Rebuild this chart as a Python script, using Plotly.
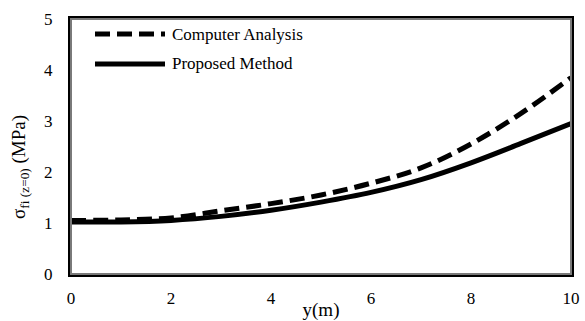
import plotly.graph_objects as go

y_m = [0, 1, 2, 3, 4, 5, 6, 7, 8, 9, 10]
computer_analysis = [1.05, 1.06, 1.10, 1.24, 1.38, 1.55, 1.78, 2.08, 2.55, 3.15, 3.85]
proposed_method = [1.02, 1.02, 1.05, 1.13, 1.25, 1.41, 1.60, 1.85, 2.18, 2.56, 2.95]
x_ticks = [0, 2, 4, 6, 8, 10]
y_ticks = [0, 1, 2, 3, 4, 5]

FONT = "Liberation Serif, Times New Roman, serif"

fig = go.Figure()
fig.add_trace(go.Scatter(x=y_m, y=computer_analysis, mode="lines", name="Computer Analysis",
                         line=dict(color="black", width=5, dash="15px,7px", shape="spline"),
                         showlegend=False))
fig.add_trace(go.Scatter(x=y_m, y=proposed_method, mode="lines", name="Proposed Method",
                         line=dict(color="black", width=5, shape="spline"),
                         showlegend=False))

# inner gray edge of frame
fig.add_shape(type="rect", xref="paper", yref="paper", x0=0, y0=0, x1=1, y1=1,
              line=dict(color="#7a7a7a", width=2), layer="above")

# manual legend
legend_items = [("Computer Analysis", "15px,7px", 0.941), ("Proposed Method", "solid", 0.824)]
for label, dash, yy in legend_items:
    fig.add_shape(type="line", xref="paper", yref="paper", x0=0.048, x1=0.188, y0=yy, y1=yy,
                  line=dict(color="black", width=5, dash=dash))
    fig.add_annotation(text=label, xref="paper", yref="paper", x=0.198, y=yy, xanchor="left",
                       yanchor="middle", showarrow=False, font=dict(family=FONT, size=17, color="black"))

# y-axis title as rotated annotation (offset downward like the reference)
fig.add_annotation(text="σ<sub>fi (z=0)</sub> (MPa)", xref="paper", yref="paper",
                   x=-0.102, y=0.42, xanchor="center", yanchor="middle", textangle=-90,
                   showarrow=False, font=dict(family=FONT, size=19, color="black"))

axis_common = dict(showgrid=False, zeroline=False, showline=True, mirror=True,
                   linecolor="black", linewidth=3, ticks="", automargin=False)

fig.update_layout(
    width=585, height=321,
    margin=dict(l=71, r=14, t=19, b=47),
    plot_bgcolor="white", paper_bgcolor="white",
    font=dict(family=FONT, size=17, color="black"),
    xaxis=dict(range=[0, 10], tickvals=x_ticks, tickfont=dict(size=17), ticklabelstandoff=7,
               ticklabeloverflow="allow",
               title=dict(text="y(m)", font=dict(size=19), standoff=0), **axis_common),
    yaxis=dict(range=[0, 5], tickvals=y_ticks, tickfont=dict(size=17), ticklabelstandoff=12,
               ticklabeloverflow="allow", **axis_common),
)

fig.write_html("out.html", post_script="document.body.style.margin='0';",
               config={"displayModeBar": False})
